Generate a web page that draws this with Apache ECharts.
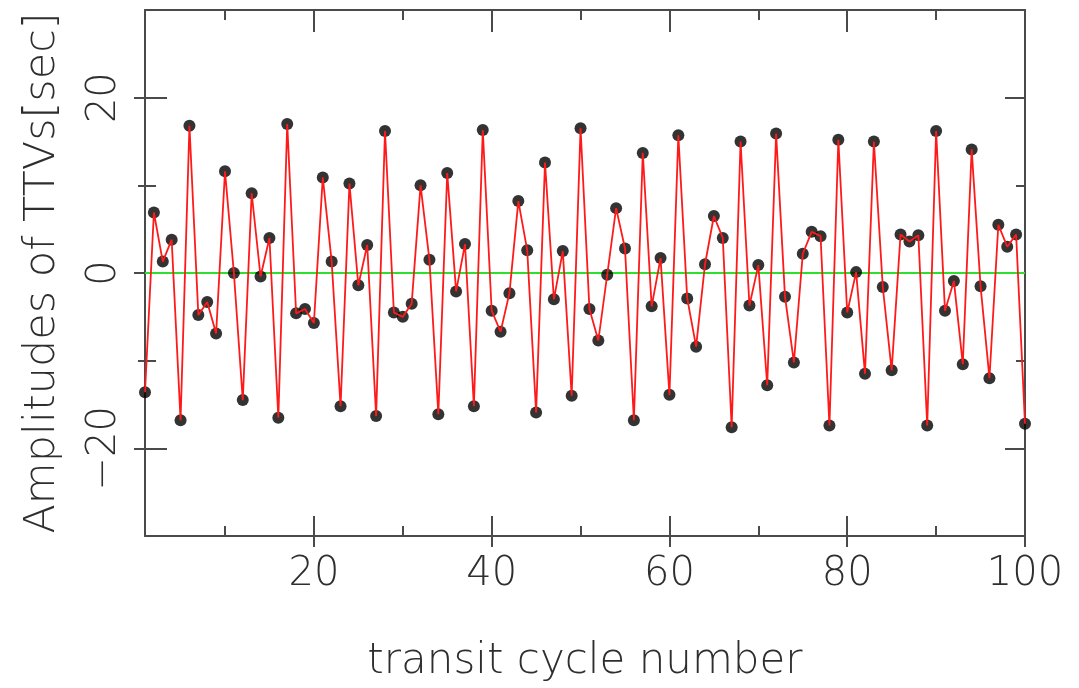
<!DOCTYPE html>
<html>
<head>
<meta charset="utf-8">
<title>TTV amplitudes</title>
<script src="https://cdn.jsdelivr.net/npm/echarts@6/dist/echarts.min.js"></script>
<style>
  html, body { margin: 0; padding: 0; background: #fff; }
  #chart { width: 1079px; height: 688px; }
</style>
</head>
<body>
<div id="chart"></div>
<script>
// transit cycle number 1..100
var cycles = [];
for (var i = 1; i <= 100; i++) cycles.push(i);

// TTV amplitudes (sec)
var ttv = [
  -13.6, 6.9, 1.3, 3.8, -16.8, 16.8, -4.8, -3.3, -6.9, 11.6,
  0.0, -14.5, 9.1, -0.4, 4.0, -16.5, 17.0, -4.6, -4.1, -5.7,
  10.9, 1.3, -15.2, 10.2, -1.4, 3.2, -16.3, 16.2, -4.5, -5.0,
  -3.5, 10.0, 1.5, -16.1, 11.4, -2.1, 3.3, -15.2, 16.3, -4.3,
  -6.7, -2.3, 8.2, 2.6, -15.9, 12.6, -3.0, 2.5, -14.0, 16.5,
  -4.1, -7.7, -0.2, 7.4, 2.8, -16.8, 13.7, -3.8, 1.7, -13.9,
  15.7, -2.9, -8.4, 1.0, 6.5, 4.0, -17.6, 15.0, -3.7, 0.9,
  -12.8, 15.9, -2.7, -10.2, 2.2, 4.7, 4.2, -17.4, 15.2, -4.5,
  0.1, -11.5, 15.0, -1.6, -11.1, 4.4, 3.6, 4.3, -17.4, 16.2,
  -4.3, -0.9, -10.4, 14.1, -1.5, -12.0, 5.5, 3.0, 4.4, -17.2
];

// zero reference line
var zeroLine = [[1, 0], [100, 0]];

// ticks
var xMajor = [20, 40, 60, 80, 100];
var xMinor = [10, 30, 50, 70, 90];
var yMajor = [-20, 0, 20];
var yMinor = [-10, 10];

var points = cycles.map(function (c, k) { return [c, ttv[k]]; });

var chart = echarts.init(document.getElementById('chart'));

var frame = '#4a4a4a';
var txt = '#2e2e2e';
var font = 'DejaVu Sans';

function xAx(pos, ticks, len, inside, extra) {
  var a = {
    type: 'value', position: pos, min: 1, max: 100,
    splitLine: { show: false },
    axisLine: { show: false, onZero: false, lineStyle: { color: frame, width: 2 } },
    axisTick: { show: true, inside: inside, length: len, customValues: ticks,
                lineStyle: { color: frame, width: 2 } },
    axisLabel: { show: false }
  };
  return Object.assign(a, extra || {});
}
function yAx(pos, ticks, len, inside, extra) {
  var a = {
    type: 'value', position: pos, min: -30, max: 30,
    splitLine: { show: false },
    axisLine: { show: false, onZero: false, lineStyle: { color: frame, width: 2 } },
    axisTick: { show: true, inside: inside, length: len, customValues: ticks,
                lineStyle: { color: frame, width: 2 } },
    axisLabel: { show: false }
  };
  return Object.assign(a, extra || {});
}

var option = {
  backgroundColor: '#fff',
  animation: false,
  grid: { left: 145, right: 54, top: 10, bottom: 151 },
  xAxis: [
    xAx('bottom', xMajor, 20, true, {
      axisLine: { show: true, onZero: false, lineStyle: { color: frame, width: 2 } },
      axisLabel: { show: true, customValues: xMajor, margin: 19, color: txt,
                   fontSize: 40, fontFamily: font, fontWeight: 200 },
      name: 'transit cycle number', nameLocation: 'middle', nameGap: 126,
      nameTextStyle: { fontSize: 42, fontFamily: font, fontWeight: 200, color: txt,
                       verticalAlign: 'middle' }
    }),
    xAx('bottom', xMinor, 10, true),
    xAx('bottom', xMajor, 11, false),
    xAx('top', xMajor, 22, true, {
      axisLine: { show: true, onZero: false, lineStyle: { color: frame, width: 2 } }
    }),
    xAx('top', xMinor, 10, true)
  ],
  yAxis: [
    yAx('left', yMajor, 22, true, {
      axisLine: { show: true, onZero: false, lineStyle: { color: frame, width: 2 } },
      axisLabel: { show: true, customValues: yMajor, rotate: 90, margin: 20, color: txt,
                   fontSize: 40, fontFamily: font, fontWeight: 200,
                   formatter: function (v) { return v < 0 ? '\u2212' + Math.abs(v) : String(v); } },
      name: 'Amplitudes of TTVs[sec]', nameLocation: 'middle', nameGap: 102, nameRotate: 90,
      nameTextStyle: { fontSize: 43, fontFamily: font, fontWeight: 200, color: txt,
                       verticalAlign: 'middle' }
    }),
    yAx('left', yMinor, 11, true),
    yAx('left', yMajor, 11, false),
    yAx('left', yMinor, 7, false),
    yAx('right', yMajor, 20, true, {
      axisLine: { show: true, onZero: false, lineStyle: { color: frame, width: 2 } }
    }),
    yAx('right', yMinor, 9, true)
  ],
  series: [
    {
      type: 'line', data: zeroLine, symbol: 'none', silent: true, z: 1,
      lineStyle: { color: '#2ee02e', width: 2 }
    },
    {
      type: 'scatter', data: points, symbol: 'circle', symbolSize: 12, z: 2,
      itemStyle: { color: '#000' }
    },
    {
      type: 'line', data: points, symbol: 'none', z: 3,
      lineStyle: { color: '#ff1a1a', width: 1.8 }
    }
  ]
};

chart.setOption(option);
</script>
</body>
</html>
